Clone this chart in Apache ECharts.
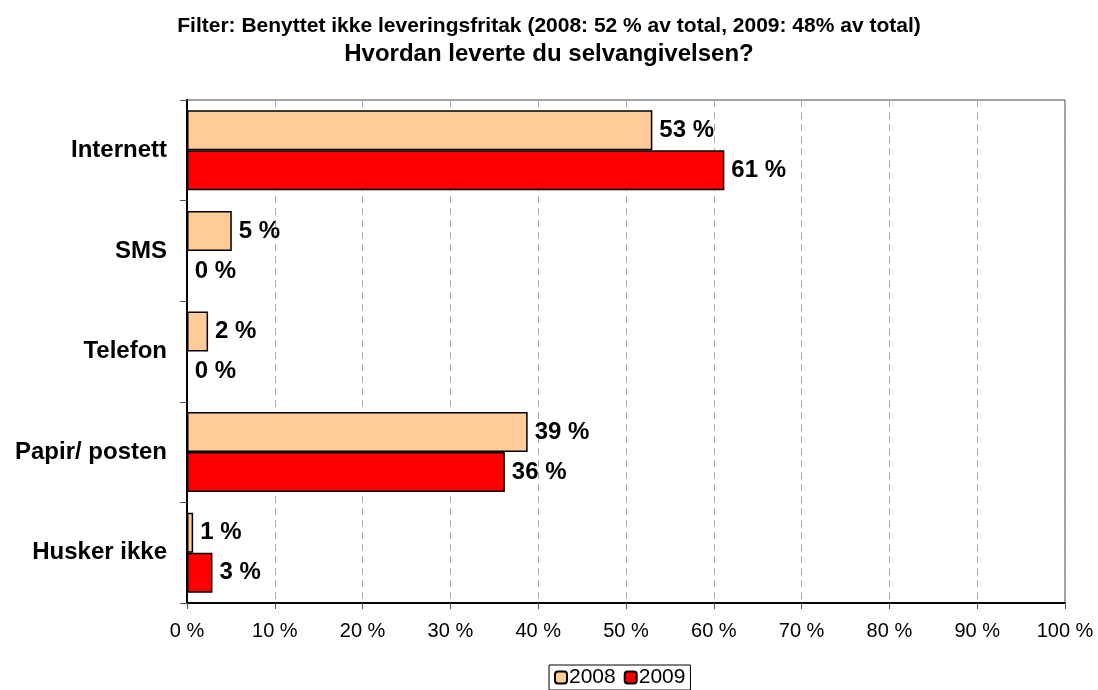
<!DOCTYPE html>
<html>
<head>
<meta charset="utf-8">
<script src="https://cdn.jsdelivr.net/npm/echarts@6/dist/echarts.min.js"></script>
<style>
  html, body { margin: 0; padding: 0; background: #fff; }
  #chart { width: 1098px; height: 690px; }
</style>
</head>
<body>
<div id="chart"></div>
<script>
// data
var categories = ["Internett", "SMS", "Telefon", "Papir/ posten", "Husker ikke"];
var values2008 = [53.0, 5.1, 2.4, 38.8, 0.7];
var values2009 = [61.2, 0, 0, 36.2, 2.9];
var xTicks = [0, 10, 20, 30, 40, 50, 60, 70, 80, 90, 100];

var font = "'Liberation Sans', Arial, sans-serif";

var labelStyle = {
  show: true,
  position: "right",
  distance: 7,
  color: "#000",
  fontSize: 24,
  fontWeight: "bold",
  fontFamily: font,
  formatter: function (p) { return Math.round(p.value) + " %"; }
};

var chart = echarts.init(document.getElementById("chart"));
chart.setOption({
  animation: false,
  textStyle: { fontFamily: font },
  title: [
    {
      text: "Filter: Benyttet ikke leveringsfritak (2008: 52 % av total, 2009: 48% av total)",
      left: "center", top: 11,
      textStyle: { fontSize: 21, fontWeight: "bold", color: "#000", fontFamily: font }
    },
    {
      text: "Hvordan leverte du selvangivelsen?",
      left: "center", top: 37,
      textStyle: { fontSize: 24, fontWeight: "bold", color: "#000", fontFamily: font }
    }
  ],
  legend: {
    data: ["2008", "2009"],
    top: 665,
    left: 549,
    itemWidth: 12,
    itemHeight: 12,
    itemGap: 8,
    padding: [2, 5, 2, 5],
    borderColor: "#000",
    borderWidth: 1,
    textStyle: { fontSize: 21, color: "#000", fontFamily: font, padding: [0, 0, 0, -3] }
  },
  grid: {
    left: 187, right: 33, top: 100, bottom: 87,
    show: true, borderColor: "#444", borderWidth: 1
  },
  xAxis: {
    type: "value",
    min: 0, max: 100, interval: 10,
    axisLine: { show: true, lineStyle: { color: "#000", width: 2 } },
    axisTick: { show: true, length: 6, lineStyle: { color: "#555" } },
    splitLine: { show: true, lineStyle: { color: "#aaa", type: [7, 5] } },
    axisLabel: {
      margin: 18, fontSize: 20, color: "#000", fontFamily: font,
      formatter: function (v) { return xTicks.indexOf(v) >= 0 ? v + " %" : ""; }
    }
  },
  yAxis: {
    type: "category",
    data: categories,
    inverse: true,
    axisLine: { show: true, lineStyle: { color: "#000", width: 2 } },
    axisTick: { show: true, length: 7, lineStyle: { color: "#555" } },
    axisLabel: { margin: 20, fontSize: 24, fontWeight: "bold", color: "#000", fontFamily: font }
  },
  series: [
    {
      name: "2008", type: "bar", data: values2008,
      barWidth: 40, barGap: "0%",
      itemStyle: { color: "#FFCC99", borderColor: "#000", borderWidth: 1.5 },
      label: labelStyle
    },
    {
      name: "2009", type: "bar", data: values2009,
      barWidth: 40,
      itemStyle: { color: "#FF0000", borderColor: "#000", borderWidth: 1.5 },
      label: labelStyle
    }
  ]
});
</script>
</body>
</html>
